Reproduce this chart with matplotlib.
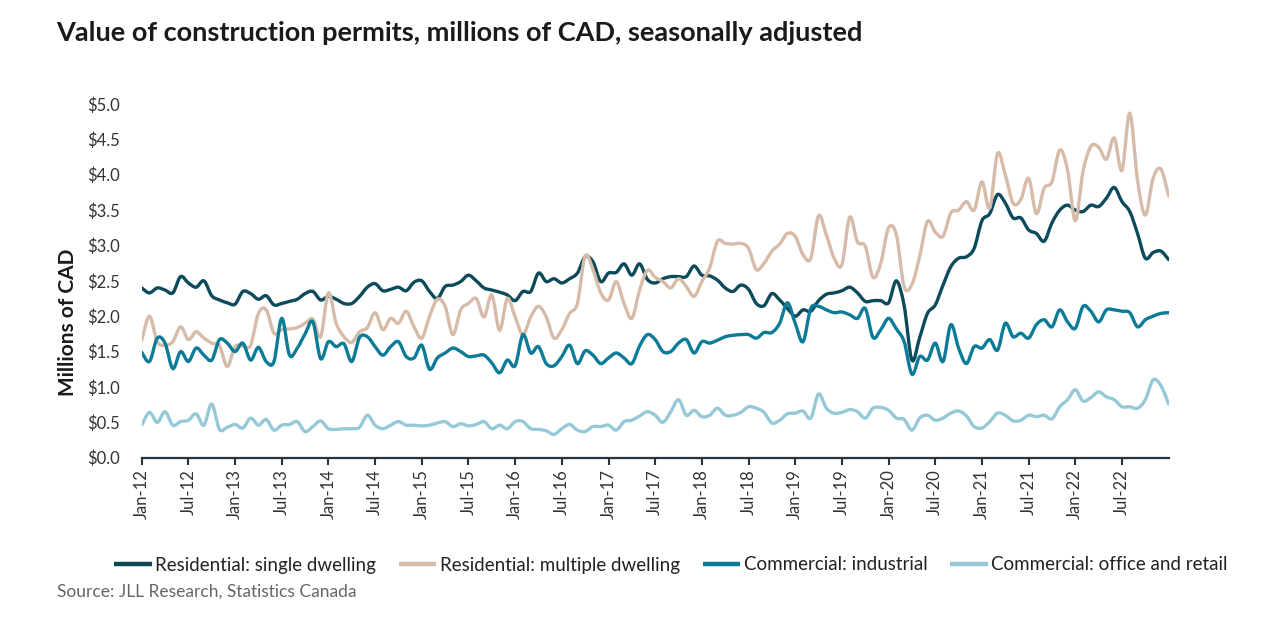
import matplotlib
matplotlib.use("Agg")
import matplotlib.pyplot as plt
from matplotlib.path import Path
from matplotlib.patches import PathPatch
from matplotlib.lines import Line2D
import numpy as np

plt.rcParams['font.family'] = ['Lato', 'DejaVu Sans']

# ---- data (monthly, starting Jan-12), millions of CAD ----
single_dwelling = [
    2.40, 2.33, 2.40, 2.37, 2.33, 2.56, 2.47, 2.41, 2.50, 2.29, 2.23, 2.19,
    2.17, 2.35, 2.32, 2.24, 2.29, 2.16, 2.18, 2.21, 2.24, 2.32, 2.35, 2.23,
    2.28, 2.24, 2.18, 2.18, 2.28, 2.41, 2.46, 2.36, 2.38, 2.41, 2.36, 2.48,
    2.50, 2.35, 2.25, 2.42, 2.44, 2.49, 2.58, 2.50, 2.40, 2.37, 2.34, 2.30,
    2.22, 2.35, 2.35, 2.61, 2.49, 2.53, 2.47, 2.53, 2.61, 2.84, 2.77, 2.49,
    2.61, 2.62, 2.74, 2.58, 2.74, 2.52, 2.47, 2.53, 2.56, 2.56, 2.56, 2.71,
    2.58, 2.57, 2.51, 2.40, 2.35, 2.44, 2.38, 2.18, 2.15, 2.32, 2.23, 2.11,
    2.00, 2.09, 2.07, 2.22, 2.31, 2.33, 2.36, 2.41, 2.33, 2.21, 2.22, 2.22,
    2.19, 2.50, 2.15, 1.38, 1.70, 2.04, 2.16, 2.44, 2.70, 2.82, 2.84, 2.96,
    3.35, 3.45, 3.72, 3.60, 3.39, 3.39, 3.22, 3.17, 3.06, 3.32, 3.50, 3.57,
    3.50, 3.48, 3.57, 3.55, 3.67, 3.82, 3.62, 3.48, 3.17, 2.82, 2.90, 2.92,
    2.80,
]
multiple_dwelling = [
    1.66, 2.00, 1.64, 1.59, 1.64, 1.85, 1.67, 1.78, 1.69, 1.62, 1.58, 1.29,
    1.57, 1.58, 1.59, 2.04, 2.09, 1.76, 1.81, 1.82, 1.84, 1.90, 1.96, 1.71,
    2.33, 1.90, 1.71, 1.63, 1.78, 1.84, 2.05, 1.81, 1.97, 1.90, 2.07, 1.85,
    1.69, 2.00, 2.24, 2.14, 1.74, 2.09, 2.18, 2.25, 1.99, 2.30, 1.80, 2.25,
    1.99, 1.74, 1.99, 2.14, 1.99, 1.69, 1.81, 2.04, 2.18, 2.85, 2.66, 2.33,
    2.23, 2.49, 2.18, 1.97, 2.37, 2.65, 2.55, 2.49, 2.40, 2.53, 2.42, 2.28,
    2.49, 2.68, 3.06, 3.03, 3.02, 3.03, 2.96, 2.66, 2.75, 2.92, 3.02, 3.17,
    3.13, 2.87, 2.82, 3.42, 3.15, 2.82, 2.73, 3.40, 3.05, 2.99, 2.55, 2.75,
    3.25, 3.15, 2.42, 2.45, 2.85, 3.34, 3.19, 3.13, 3.46, 3.50, 3.62, 3.50,
    3.90, 3.53, 4.30, 4.00, 3.60, 3.65, 3.95, 3.45, 3.81, 3.90, 4.35, 4.07,
    3.35, 4.05, 4.40, 4.39, 4.22, 4.52, 4.06, 4.87, 3.92, 3.43, 3.95, 4.08,
    3.70,
]
industrial = [
    1.49, 1.36, 1.69, 1.62, 1.26, 1.50, 1.36, 1.55, 1.45, 1.38, 1.67, 1.62,
    1.50, 1.62, 1.38, 1.56, 1.36, 1.36, 1.97, 1.45, 1.55, 1.75, 1.92, 1.40,
    1.64, 1.57, 1.61, 1.36, 1.70, 1.71, 1.57, 1.45, 1.57, 1.64, 1.43, 1.41,
    1.59, 1.25, 1.41, 1.48, 1.55, 1.50, 1.43, 1.44, 1.45, 1.34, 1.20, 1.38,
    1.30, 1.74, 1.48, 1.57, 1.33, 1.30, 1.43, 1.59, 1.33, 1.51, 1.45, 1.33,
    1.41, 1.48, 1.41, 1.33, 1.58, 1.74, 1.67, 1.50, 1.50, 1.62, 1.67, 1.48,
    1.64, 1.62, 1.66, 1.71, 1.73, 1.74, 1.74, 1.69, 1.77, 1.77, 1.90, 2.19,
    1.90, 1.64, 2.11, 2.14, 2.09, 2.05, 2.06, 2.02, 1.97, 2.11, 1.70, 1.81,
    1.97, 1.82, 1.64, 1.18, 1.43, 1.38, 1.62, 1.36, 1.88, 1.55, 1.33, 1.57,
    1.55, 1.67, 1.52, 1.90, 1.71, 1.76, 1.69, 1.88, 1.95, 1.85, 2.09, 1.92,
    1.83, 2.14, 2.07, 1.92, 2.09, 2.09, 2.07, 2.05, 1.85, 1.95, 2.00, 2.04,
    2.05,
]
office_retail = [
    0.46, 0.64, 0.50, 0.65, 0.46, 0.51, 0.53, 0.62, 0.46, 0.76, 0.40, 0.43,
    0.47, 0.42, 0.56, 0.46, 0.54, 0.39, 0.46, 0.47, 0.51, 0.37, 0.44, 0.52,
    0.41, 0.40, 0.41, 0.41, 0.43, 0.60, 0.46, 0.41, 0.46, 0.51, 0.46, 0.46,
    0.45, 0.46, 0.49, 0.51, 0.44, 0.48, 0.45, 0.47, 0.51, 0.41, 0.46, 0.41,
    0.51, 0.51, 0.41, 0.40, 0.38, 0.33, 0.41, 0.47, 0.39, 0.37, 0.44, 0.44,
    0.46, 0.39, 0.51, 0.53, 0.59, 0.65, 0.60, 0.50, 0.65, 0.82, 0.60, 0.67,
    0.58, 0.60, 0.70, 0.60, 0.60, 0.64, 0.72, 0.70, 0.64, 0.49, 0.53, 0.62,
    0.63, 0.66, 0.56, 0.90, 0.70, 0.63, 0.64, 0.68, 0.65, 0.56, 0.70, 0.71,
    0.67, 0.56, 0.54, 0.39, 0.56, 0.60, 0.53, 0.56, 0.63, 0.66, 0.59, 0.44,
    0.42, 0.51, 0.63, 0.60, 0.52, 0.53, 0.60, 0.58, 0.60, 0.55, 0.72, 0.82,
    0.96, 0.80, 0.85, 0.93, 0.86, 0.82, 0.72, 0.72, 0.70, 0.82, 1.10, 1.02,
    0.76,
]
tick_labels = ['Jan-12', 'Jul-12', 'Jan-13', 'Jul-13', 'Jan-14', 'Jul-14', 'Jan-15',
               'Jul-15', 'Jan-16', 'Jul-16', 'Jan-17', 'Jul-17', 'Jan-18', 'Jul-18',
               'Jan-19', 'Jul-19', 'Jan-20', 'Jul-20', 'Jan-21', 'Jul-21', 'Jan-22',
               'Jul-22']
series_names = ['Residential: single dwelling', 'Residential: multiple dwelling',
                'Commercial: industrial', 'Commercial: office and retail']
series_colors = ['#0c4a5b', '#d6bba9', '#0b7b98', '#96c9d7']
y_ticks = [0.0, 0.5, 1.0, 1.5, 2.0, 2.5, 3.0, 3.5, 4.0, 4.5, 5.0]


def smooth_path(xs, ys, tension=1.0 / 6.0):
    """Catmull-Rom style cubic Bezier path through the data points."""
    pts = np.column_stack([xs, ys]).astype(float)
    n = len(pts)
    verts = [pts[0]]
    codes = [Path.MOVETO]
    for k in range(n - 1):
        p0 = pts[k - 1] if k > 0 else pts[k]
        p1 = pts[k]
        p2 = pts[k + 1]
        p3 = pts[k + 2] if k + 2 < n else pts[k + 1]
        c1 = p1 + (p2 - p0) * tension
        c2 = p2 - (p3 - p1) * tension
        verts += [c1, c2, p2]
        codes += [Path.CURVE4] * 3
    return Path(verts, codes)


W, H = 1280, 639
fig = plt.figure(figsize=(W / 100, H / 100), dpi=100)
n = len(single_dwelling)
px_per_month = 7.78
x0_px = 141.7
ax_left = x0_px / W
ax_width = (n - 1) * px_per_month / W
y0_px, y5_px = 457.7, 104.0
ax = fig.add_axes([ax_left, 1 - y0_px / H, ax_width, (y0_px - y5_px) / H])

all_series = [single_dwelling, multiple_dwelling, industrial, office_retail]
months = np.arange(n)
handles = []
for vals, col, name in zip(all_series, series_colors, series_names):
    p = smooth_path(months, vals)
    ax.add_patch(PathPatch(p, facecolor='none', edgecolor=col, lw=2.4,
                           capstyle='round', joinstyle='round'))
    handles.append(Line2D([], [], color=col, lw=3.2, solid_capstyle='butt'))

ax.set_xlim(0, n - 1)
ax.set_ylim(0, 5)
for s in ['top', 'right', 'left']:
    ax.spines[s].set_visible(False)
ax.spines['bottom'].set_color('#27323d')
ax.spines['bottom'].set_linewidth(1.6)

ax.set_xticks(np.arange(0, 6 * len(tick_labels), 6))
ax.set_xticklabels(tick_labels, rotation=90, fontsize=12, color='#333333')
ax.tick_params(axis='x', direction='out', length=5, width=1.5, color='#27323d', pad=3)
ax.set_yticks(y_ticks)
ax.set_yticklabels(['${:.1f}'.format(v) for v in y_ticks], fontsize=12, color='#333333')
ax.tick_params(axis='y', length=0, pad=16)

fig.text(68 / W, 1 - 322 / H, 'Millions of CAD', rotation=90, ha='center', va='center',
         fontsize=15, fontweight='bold', color='#1a1a1a')
fig.text(56 / W, 1 - 33 / H, 'Value of construction permits, millions of CAD, seasonally adjusted',
         ha='left', va='center', fontsize=19.5, fontweight='bold', color='#1a1a1a')
fig.legend(handles, series_names, loc='center', bbox_to_anchor=(671 / W, 1 - 565 / H),
           ncol=4, frameon=False, fontsize=13.5, handlelength=2.0, handletextpad=0.2,
           columnspacing=1.2, labelcolor='#222222')
fig.text(57 / W, 1 - 592 / H, 'Source: JLL Research, Statistics Canada', ha='left', va='center',
         fontsize=12.5, color='#666666')

fig.savefig('out.png', dpi=100)
